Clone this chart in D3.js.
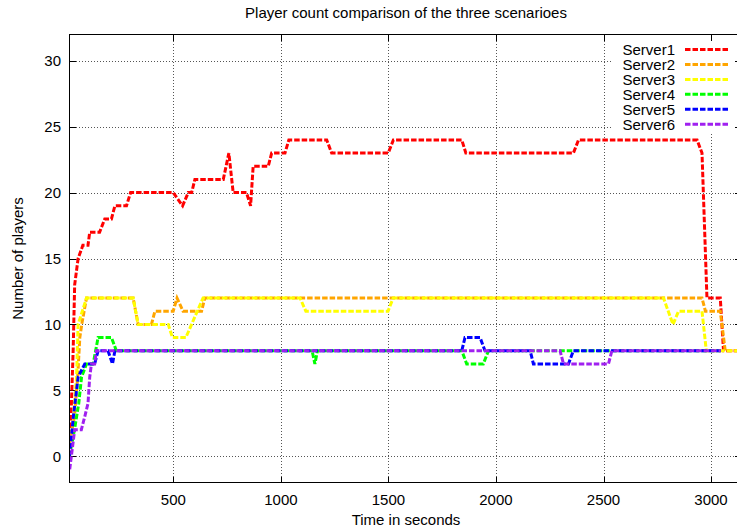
<!DOCTYPE html>
<html>
<head>
<meta charset="utf-8">
<script src="https://cdn.jsdelivr.net/npm/d3@7"></script>
<style>
body { margin: 0; background: #fff; }
text { font-family: "Liberation Sans", Arial, sans-serif; font-size: 15px; fill: #000; }
</style>
</head>
<body>
<svg class="chart"></svg>
<script>
// [time in seconds, players]
var server1 = [[17,1],[26,4],[34,8],[41,13],[57,15],[79,16],[103,16],[111,17],[157,17],[181,18],[212,18],[228,19],[282,19],[301,20],[499,20],[543,19],[569,20],[585,20],[600,21],[732,21],[758,23],[778,20],[840,20],[859,19],[871,22],[941,22],[957,23],[1019,23],[1037,24],[1213,24],[1236,23],[1499,23],[1523,24],[1841,24],[1860,23],[2360,23],[2384,24],[2935,24],[2958,23],[2981,12],[3043,12],[3058,8],[3137,8]];
var server2 = [[17,1],[40,3],[55,6],[65,9],[74,10],[85,11],[96,12],[313,12],[336,10],[398,10],[414,11],[499,11],[517,12],[545,11],[631,11],[646,12],[2958,12],[2974,11],[3043,11],[3066,8],[3137,8]];
var server3 = [[17,0],[35,3],[50,6],[57,10],[96,12],[313,12],[336,10],[476,10],[496,9],[558,9],[638,12],[1089,12],[1116,11],[1498,11],[1522,12],[2779,12],[2823,10],[2849,11],[2958,11],[2978,8],[3137,8]];
var server4 = [[17,0],[40,2],[60,4],[73,6],[96,7],[127,7],[150,9],[212,9],[235,8],[1145,8],[1158,7],[1170,8],[1841,8],[1864,7],[1941,7],[1965,8],[3045,8]];
var server5 = [[17,0],[35,3],[57,6],[88,7],[134,7],[150,8],[196,8],[217,7],[228,8],[1841,8],[1856,9],[1926,9],[1949,8],[2159,8],[2174,7],[2337,7],[2360,8],[3045,8]];
var server6 = [[18,-1],[41,2],[72,2],[88,3],[103,4],[111,6],[119,7],[134,7],[142,8],[2298,8],[2314,7],[2523,7],[2539,8],[3045,8]];

var seriesNames = ["Server1", "Server2", "Server3", "Server4", "Server5", "Server6"];
var seriesData = [server1, server2, server3, server4, server5, server6];
var xTicks = [500, 1000, 1500, 2000, 2500, 3000];
var yTicks = [0, 5, 10, 15, 20, 25, 30];

var colors = ["#ff0000", "#ffa500", "#ffff00", "#00ff00", "#0000ff", "#a020f0"];

var W = 737, H = 531;
var pLeft = 69.5, pRight = 740.5, pTop = 34.5, pBottom = 482.5;

var svg = d3.select(".chart").attr("width", W).attr("height", H);

var x = d3.scaleLinear().domain([17, 3137]).range([pLeft, pRight]);
var y = d3.scaleLinear().domain([-2, 32]).range([pBottom, pTop]);

// grid
var grid = svg.append("g").attr("shape-rendering", "crispEdges");
grid.selectAll(".gx").data(xTicks).enter().append("line")
	.attr("x1", d => Math.round(x(d)) + 0.5).attr("x2", d => Math.round(x(d)) + 0.5)
	.attr("y1", pTop).attr("y2", pBottom)
	.attr("stroke", "#555").attr("stroke-dasharray", "1,2");
grid.selectAll(".gy").data(yTicks).enter().append("line")
	.attr("x1", pLeft).attr("x2", pRight)
	.attr("y1", d => Math.round(y(d)) + 0.5).attr("y2", d => Math.round(y(d)) + 0.5)
	.attr("stroke", "#555").attr("stroke-dasharray", "1,2");

// key area hides the grid
svg.append("rect").attr("x", 611).attr("y", pTop + 1).attr("width", 130).attr("height", 97).attr("fill", "#fff");

// ticks (inward, mirrored)
var ticks = svg.append("g").attr("stroke", "#000").attr("shape-rendering", "crispEdges");
xTicks.forEach(function(t) {
	var px = Math.round(x(t)) + 0.5;
	ticks.append("line").attr("x1", px).attr("x2", px).attr("y1", pBottom).attr("y2", pBottom - 6);
	ticks.append("line").attr("x1", px).attr("x2", px).attr("y1", pTop).attr("y2", pTop + 6);
});
yTicks.forEach(function(t) {
	var py = Math.round(y(t)) + 0.5;
	ticks.append("line").attr("x1", pLeft).attr("x2", pLeft + 6).attr("y1", py).attr("y2", py);
	ticks.append("line").attr("x1", pRight).attr("x2", pRight - 6).attr("y1", py).attr("y2", py);
});

// tick labels
svg.selectAll(".xl").data(xTicks).enter().append("text")
	.attr("x", d => x(d)).attr("y", 505)
	.attr("text-anchor", "middle").text(d => d);
svg.selectAll(".yl").data(yTicks).enter().append("text")
	.attr("x", 61).attr("y", d => y(d) + 5.5)
	.attr("text-anchor", "end").text(d => d);

// data
svg.append("clipPath").attr("id", "clip").append("rect")
	.attr("x", pLeft).attr("y", pTop).attr("width", pRight - pLeft).attr("height", pBottom - pTop);

var line = d3.line().x(d => x(d[0])).y(d => y(d[1]));

svg.append("g").attr("clip-path", "url(#clip)")
	.selectAll("path").data(seriesData).enter().append("path")
	.attr("d", line)
	.attr("fill", "none")
	.attr("stroke", (d, i) => colors[i])
	.attr("stroke-width", 3)
	.attr("stroke-dasharray", "5.5,2")
	.attr("stroke-linejoin", "miter");

// frame
svg.append("rect")
	.attr("x", pLeft).attr("y", pTop).attr("width", pRight - pLeft).attr("height", pBottom - pTop)
	.attr("fill", "none").attr("stroke", "#000").attr("shape-rendering", "crispEdges");

// legend
var key = svg.append("g");
seriesNames.forEach(function(name, i) {
	var cy = 49.5 + i * 14.95;
	key.append("text").attr("x", 675).attr("y", cy + 5.5).attr("text-anchor", "end").text(name);
	key.append("line").attr("x1", 685).attr("x2", 728).attr("y1", cy).attr("y2", cy)
		.attr("stroke", colors[i]).attr("stroke-width", 3).attr("stroke-dasharray", "5.5,2");
});

// titles
svg.append("text").attr("x", 406).attr("y", 18).attr("text-anchor", "middle")
	.text("Player count comparison of the three scenarioes");
svg.append("text").attr("x", 406).attr("y", 525).attr("text-anchor", "middle")
	.text("Time in seconds");
svg.append("text").attr("transform", "translate(23," + ((pTop + pBottom) / 2) + ") rotate(-90)")
	.attr("text-anchor", "middle").text("Number of players");
</script>
</body>
</html>
